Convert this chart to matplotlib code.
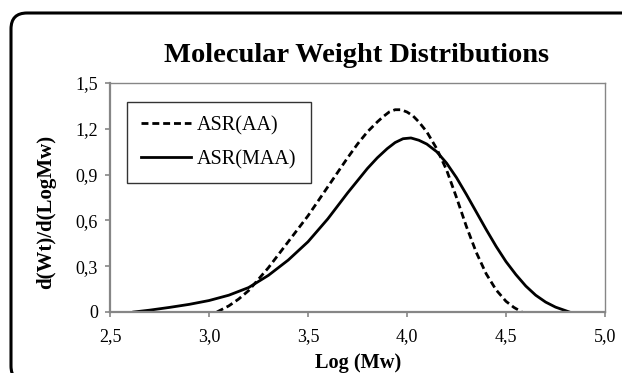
import matplotlib
matplotlib.use('Agg')
import matplotlib.pyplot as plt
from matplotlib.patches import FancyBboxPatch

# ASR(AA) - dashed curve
aa_x = [3.04, 3.1, 3.15, 3.2, 3.3, 3.4, 3.5, 3.6, 3.7, 3.75, 3.8, 3.85, 3.88, 3.91, 3.94,
        3.97, 4.0, 4.03, 4.06, 4.1, 4.15, 4.2, 4.25, 4.3, 4.35, 4.4, 4.45, 4.5, 4.54, 4.58]
aa_y = [0.0, 0.04, 0.085, 0.14, 0.29, 0.46, 0.63, 0.82, 1.01, 1.10, 1.18, 1.245, 1.28, 1.31, 1.325,
        1.325, 1.31, 1.285, 1.245, 1.18, 1.07, 0.93, 0.75, 0.56, 0.39, 0.25, 0.145, 0.07, 0.03, 0.0]

# ASR(MAA) - solid curve
maa_x = [2.62, 2.7, 2.8, 2.9, 3.0, 3.1, 3.2, 3.3, 3.4, 3.5, 3.6, 3.7, 3.8, 3.85, 3.9, 3.94,
         3.98, 4.02, 4.06, 4.1, 4.15, 4.2, 4.25, 4.3, 4.35, 4.4, 4.45, 4.5, 4.55, 4.6, 4.65,
         4.7, 4.75, 4.82]
maa_y = [0.0, 0.012, 0.03, 0.05, 0.075, 0.11, 0.16, 0.24, 0.34, 0.46, 0.61, 0.78, 0.94, 1.01, 1.07, 1.11,
         1.135, 1.14, 1.125, 1.10, 1.05, 0.975, 0.88, 0.77, 0.655, 0.54, 0.43, 0.33, 0.245, 0.17, 0.11,
         0.065, 0.032, 0.0]

x_ticks = [2.5, 3.0, 3.5, 4.0, 4.5, 5.0]
x_labels = ['2,5', '3,0', '3,5', '4,0', '4,5', '5,0']
y_ticks = [0, 0.3, 0.6, 0.9, 1.2, 1.5]
y_labels = ['0', '0,3', '0,6', '0,9', '1,2', '1,5']

plt.rcParams['font.family'] = ['Liberation Serif', 'DejaVu Serif']

W, H = 622, 373
fig = plt.figure(figsize=(W / 100, H / 100), dpi=100)

# outer rounded frame (inches), it runs off the right and bottom edges like the original
frame = FancyBboxPatch((0.11, -0.09), 6.6, 3.69,
                       boxstyle='round,pad=0,rounding_size=0.16',
                       transform=fig.dpi_scale_trans, fill=False,
                       edgecolor='black', linewidth=2.2, clip_on=False)
fig.patches.append(frame)

ax = fig.add_axes([110 / W, 1 - 312 / H, 495 / W, 229 / H])

ax.plot(aa_x, aa_y, color='black', linestyle=(0, (2.5, 1.4)), linewidth=2.0, label='ASR(AA)')
ax.plot(maa_x, maa_y, color='black', linestyle='-', linewidth=2.0, label='ASR(MAA)')

ax.set_xlim(2.5, 5.0)
ax.set_ylim(0, 1.5)
ax.set_xticks(x_ticks)
ax.set_xticklabels(x_labels)
ax.set_yticks(y_ticks)
ax.set_yticklabels(y_labels)

for s in ax.spines.values():
    s.set_color('#868686')
    s.set_linewidth(1.0)
ax.spines['left'].set_linewidth(1.6)
ax.spines['bottom'].set_linewidth(1.6)

ax.tick_params(axis='both', direction='out', length=3.6, width=1.2, color='#868686',
               labelsize=13)
ax.tick_params(axis='x', pad=8)
ax.tick_params(axis='y', pad=5)

leg = ax.legend(loc='upper left', bbox_to_anchor=((127 - 110) / 495, (312 - 102) / 229),
                borderaxespad=0, fancybox=False, frameon=True, prop={'size': 14.5},
                handlelength=2.5, handletextpad=0.28, labelspacing=0.72, borderpad=0.7)
leg.get_frame().set_edgecolor('black')
leg.get_frame().set_linewidth(1.0)

fig.text(357 / W, 1 - 62 / H, 'Molecular Weight Distributions', ha='center', va='baseline',
         fontsize=20.5, fontweight='bold')
fig.text(358 / W, 1 - 368 / H, 'Log (Mw)', ha='center', va='baseline',
         fontsize=14.7, fontweight='bold')
fig.text(46 / W, 1 - 212 / H, 'd(Wt)/d(LogMw)', ha='center', va='center', rotation=90,
         fontsize=15, fontweight='bold')

fig.savefig('out.png', dpi=100)
